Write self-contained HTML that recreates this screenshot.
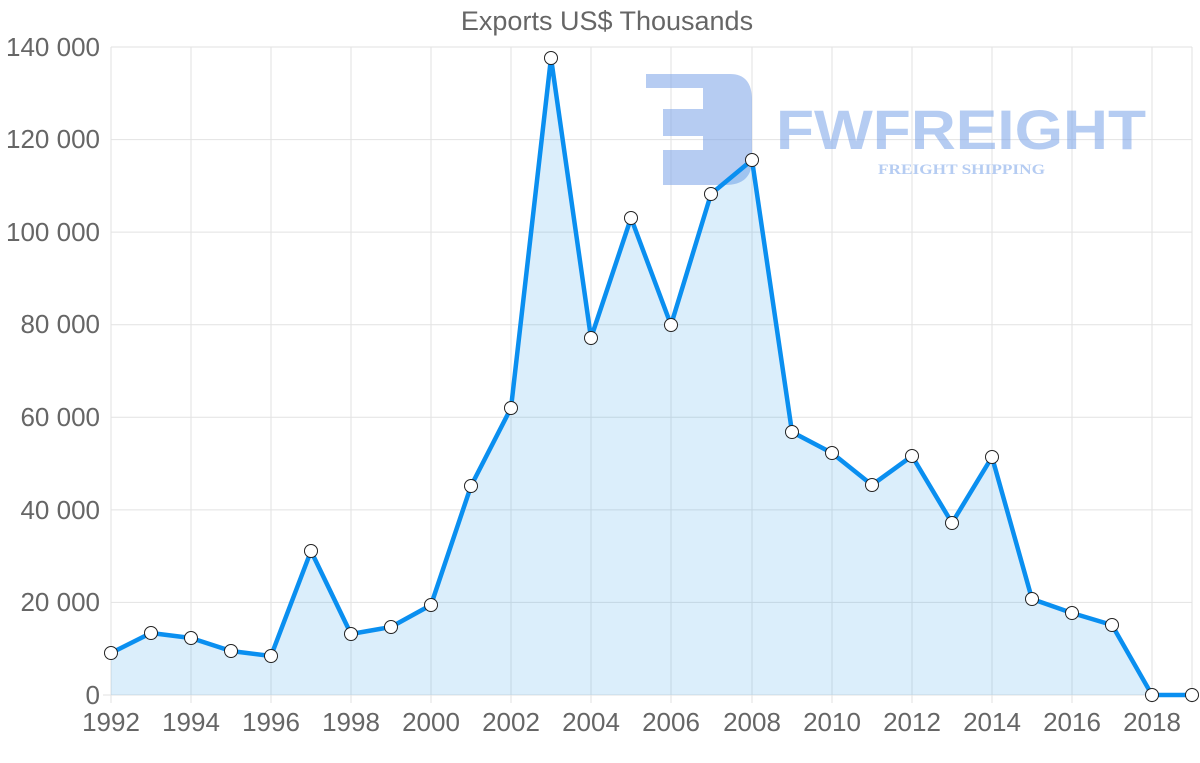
<!DOCTYPE html>
<html><head><style>body{margin:0;background:#fff}svg{display:block}</style></head><body>
<svg width="1200" height="763" xmlns="http://www.w3.org/2000/svg" font-family="Liberation Sans, sans-serif">
<rect width="1200" height="763" fill="#fff"/>
<text x="607" y="30" text-anchor="middle" font-size="27" fill="#666">Exports US$ Thousands</text>
<g stroke="#e2e2e2" stroke-width="1">
<line x1="111" y1="47" x2="1192" y2="47"/><line x1="111" y1="139.6" x2="1192" y2="139.6"/><line x1="111" y1="232.1" x2="1192" y2="232.1"/><line x1="111" y1="324.7" x2="1192" y2="324.7"/><line x1="111" y1="417.3" x2="1192" y2="417.3"/><line x1="111" y1="509.9" x2="1192" y2="509.9"/><line x1="111" y1="602.4" x2="1192" y2="602.4"/><line x1="103" y1="695" x2="1192" y2="695"/>
<line x1="111" y1="47" x2="111" y2="703"/><line x1="191" y1="47" x2="191" y2="703"/><line x1="271" y1="47" x2="271" y2="703"/><line x1="351" y1="47" x2="351" y2="703"/><line x1="431" y1="47" x2="431" y2="703"/><line x1="511" y1="47" x2="511" y2="703"/><line x1="591" y1="47" x2="591" y2="703"/><line x1="671" y1="47" x2="671" y2="703"/><line x1="752" y1="47" x2="752" y2="703"/><line x1="832" y1="47" x2="832" y2="703"/><line x1="912" y1="47" x2="912" y2="703"/><line x1="992" y1="47" x2="992" y2="703"/><line x1="1072" y1="47" x2="1072" y2="703"/><line x1="1152" y1="47" x2="1152" y2="703"/><line x1="1192" y1="47" x2="1192" y2="703"/>
</g>
<g fill="#666" font-size="26" text-anchor="end">
<text x="100" y="56">140 000</text><text x="100" y="148">120 000</text><text x="100" y="241">100 000</text><text x="100" y="333">80 000</text><text x="100" y="426">60 000</text><text x="100" y="519">40 000</text><text x="100" y="611">20 000</text><text x="100" y="704">0</text>
</g>
<g fill="#666" font-size="26" text-anchor="middle">
<text x="111" y="731">1992</text><text x="191" y="731">1994</text><text x="271" y="731">1996</text><text x="351" y="731">1998</text><text x="431" y="731">2000</text><text x="511" y="731">2002</text><text x="591" y="731">2004</text><text x="671" y="731">2006</text><text x="752" y="731">2008</text><text x="832" y="731">2010</text><text x="912" y="731">2012</text><text x="992" y="731">2014</text><text x="1072" y="731">2016</text><text x="1152" y="731">2018</text>
</g>
<g opacity="0.55" fill="#7aa3e8">
<path d="M646 74 H730 Q752 74 752 100 V160 Q752 185 725 185 H663 V150 H703 V136 H663 V109 H703 V88 H646 Z"/>
<text x="776" y="149" font-size="56" font-weight="bold" textLength="370" lengthAdjust="spacingAndGlyphs">FWFREIGHT</text>
<text x="878" y="174" font-size="15" font-weight="bold" font-family="Liberation Serif, serif" textLength="167" lengthAdjust="spacingAndGlyphs">FREIGHT SHIPPING</text>
</g>
<polygon fill="rgba(54,162,235,0.18)" points="111,695 111,653 151,633 191,638 231,651 271,656 311,551 351,634 391,627 431,605 471,486 511,408 551,58 591,338 631,218 671,325 711,194 752,160 792,432 832,453 872,485 912,456 952,523 992,457 1032,599 1072,613 1112,625 1152,695 1192,695"/>
<polyline fill="none" stroke="#0a8ff0" stroke-width="4.5" stroke-linejoin="round" points="111,653 151,633 191,638 231,651 271,656 311,551 351,634 391,627 431,605 471,486 511,408 551,58 591,338 631,218 671,325 711,194 752,160 792,432 832,453 872,485 912,456 952,523 992,457 1032,599 1072,613 1112,625 1152,695 1192,695"/>
<g fill="#fff" stroke="#222" stroke-width="1">
<circle cx="111" cy="653" r="6.5"/><circle cx="151" cy="633" r="6.5"/><circle cx="191" cy="638" r="6.5"/><circle cx="231" cy="651" r="6.5"/><circle cx="271" cy="656" r="6.5"/><circle cx="311" cy="551" r="6.5"/><circle cx="351" cy="634" r="6.5"/><circle cx="391" cy="627" r="6.5"/><circle cx="431" cy="605" r="6.5"/><circle cx="471" cy="486" r="6.5"/><circle cx="511" cy="408" r="6.5"/><circle cx="551" cy="58" r="6.5"/><circle cx="591" cy="338" r="6.5"/><circle cx="631" cy="218" r="6.5"/><circle cx="671" cy="325" r="6.5"/><circle cx="711" cy="194" r="6.5"/><circle cx="752" cy="160" r="6.5"/><circle cx="792" cy="432" r="6.5"/><circle cx="832" cy="453" r="6.5"/><circle cx="872" cy="485" r="6.5"/><circle cx="912" cy="456" r="6.5"/><circle cx="952" cy="523" r="6.5"/><circle cx="992" cy="457" r="6.5"/><circle cx="1032" cy="599" r="6.5"/><circle cx="1072" cy="613" r="6.5"/><circle cx="1112" cy="625" r="6.5"/><circle cx="1152" cy="695" r="6.5"/><circle cx="1192" cy="695" r="6.5"/>
</g>
</svg>
</body></html>
